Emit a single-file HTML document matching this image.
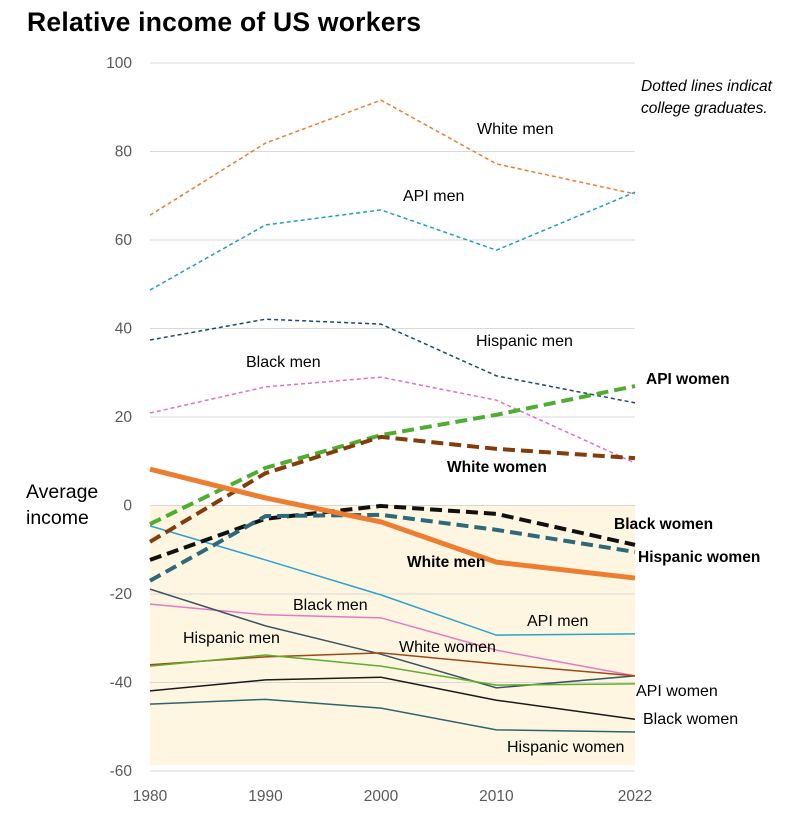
<!DOCTYPE html>
<html><head><meta charset="utf-8"><style>
body{margin:0;background:#fff;width:789px;height:814px;overflow:hidden;font-family:"Liberation Sans",sans-serif}
svg text{font-family:"Liberation Sans",sans-serif}
</style></head><body>
<svg id="chart" width="789" height="814" xmlns="http://www.w3.org/2000/svg">
<text x="27" y="31" font-size="26.5" font-weight="bold" fill="#000" textLength="394">Relative income of US workers</text>
<text x="641" y="91" font-size="15.5" font-style="italic" fill="#000">Dotted lines indicat</text>
<text x="641" y="113" font-size="15.5" font-style="italic" fill="#000">college graduates.</text>
<text x="26" y="498" font-size="19.5" fill="#000">Average</text>
<text x="26" y="524" font-size="19.5" fill="#000">income</text>
<g id="grid"></g><g id="marks"></g><g id="labels"></g>
</svg>
<script>
const years=[1980,1990,2000,2010,2022];
const yTicks=[100,80,60,40,20,0,-20,-40,-60];
const whiteMenGrad=[65.6,81.9,91.6,77.2,70.4];
const apiMenGrad=[48.7,63.4,66.8,57.7,70.8];
const hispMenGrad=[37.4,42.1,41,29.3,23.2];
const blackMenGrad=[20.9,26.8,29,23.8,9.6];
const apiWomenGrad=[-4.2,8.5,15.9,20.5,27];
const whiteWomenGrad=[-8.2,7.3,15.5,12.8,10.7];
const blackWomenGrad=[-12.3,-3,-0.1,-1.9,-8.9];
const hispWomenGrad=[-17,-2.4,-2.1,-5.5,-10.5];
const whiteMen=[8.2,1.7,-3.7,-12.8,-16.4];
const apiMen=[-4.6,-12.3,-20.2,-29.3,-29];
const blackMen=[-22.3,-24.7,-25.4,-32.7,-38.5];
const hispMen=[-18.9,-27.2,-33.6,-41.2,-38.5];
const whiteWomen=[-36,-34.2,-33.3,-35.8,-38.5];
const apiWomen=[-36.3,-33.8,-36.3,-40.6,-40.3];
const blackWomen=[-41.9,-39.4,-38.8,-44,-48.3];
const hispWomen=[-44.9,-43.8,-45.8,-50.7,-51.2];

const X=y=>150+(y-1980)*(485/42);
const Y=v=>505.5-v*4.425;
const NS="http://www.w3.org/2000/svg";
function mk(tag,attrs,parent){const e=document.createElementNS(NS,tag);for(const k in attrs)e.setAttribute(k,attrs[k]);parent.appendChild(e);return e;}
const grid=document.getElementById('grid'),marks=document.getElementById('marks'),labels=document.getElementById('labels');
const bg=mk('rect',{x:X(1980),y:Y(0),width:X(2022)-X(1980),height:Y(-58.7)-Y(0),fill:'#fef6e1'},grid);


yTicks.forEach(t=>{
 const l=mk('line',{x1:X(1980),x2:X(2022),y1:Y(t),y2:Y(t),stroke:'#d9d9d9','stroke-width':1},grid);
 
 
 const tx=mk('text',{x:132,y:Y(t)+5,'text-anchor':'end','font-size':15.5,fill:'#595959'},grid);
 tx.textContent=t;
 
 
});
years.forEach(y=>{
 const tx=mk('text',{x:X(y),y:801,'text-anchor':'middle','font-size':15.5,fill:'#595959'},grid);
 tx.textContent=y;
 
 
});
const series=[
 [whiteMenGrad,'#ed7d31',1.5,'4 3','white-men-grad'],
 [apiMenGrad,'#1f9bd1',1.5,'4 3','api-men-grad'],
 [hispMenGrad,'#1b4a6b',1.5,'4 3','hispanic-men-grad'],
 [blackMenGrad,'#df6fd0',1.5,'4 3','black-men-grad'],
 [apiMen,'#2aa3cf',1.5,'','api-men'],
 [blackMen,'#e47ac6',1.5,'','black-men'],
 [hispMen,'#3b5566',1.5,'','hispanic-men'],
 [whiteWomen,'#9c4a13',1.5,'','white-women'],
 [apiWomen,'#5dae2a',1.5,'','api-women'],
 [blackWomen,'#1a1a1a',1.5,'','black-women'],
 [hispWomen,'#2f6470',1.5,'','hispanic-women'],
 [apiWomenGrad,'#4fad32',4,'12 6','api-women-grad'],
 [whiteWomenGrad,'#843c0c',4,'12 6','white-women-grad'],
 [blackWomenGrad,'#111',4,'12 6','black-women-grad'],
 [hispWomenGrad,'#2c6a7a',4,'12 6','hispanic-women-grad'],
 [whiteMen,'#ed7d31',5,'','white-men']
];
series.forEach(s=>{
 const pts=s[0].map((v,i)=>X(years[i])+','+Y(v)).join(' ');
 const p=mk('polyline',{points:pts,fill:'none',stroke:s[1],'stroke-width':s[2]},marks);
 if(s[3])p.setAttribute('stroke-dasharray',s[3]);
 
 
});
const labs=[
 ['White men',477,134,0],['API men',403,201,0],['Hispanic men',476,346,0],['Black men',246,367,0],
 ['API women',646,384,1],['White women',447,472,1],['Black women',614,529,1],['Hispanic women',638,562,1],
 ['White men',407,567,1],['Black men',293,610,0],['API men',527,626,0],['Hispanic men',183,643,0],
 ['White women',399,652,0],['API women',636,696,0],['Black women',643,724,0],['Hispanic women',507,752,0]
];
labs.forEach(l=>{
 const t=mk('text',{x:l[1],y:l[2],'font-size':l[3]?15.5:16,fill:'#000','font-weight':l[3]?'bold':'normal'},labels);
 t.textContent=l[0];
 
 
});
</script>
</body></html>
